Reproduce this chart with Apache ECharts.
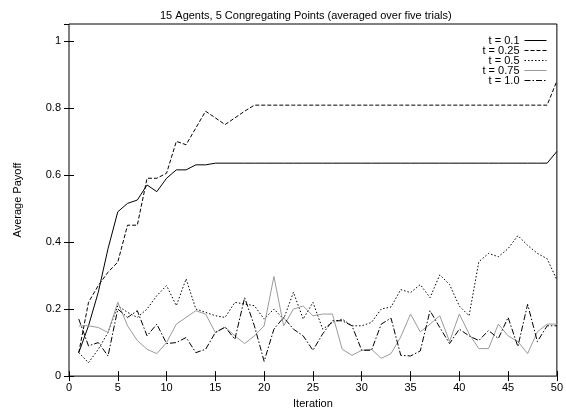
<!DOCTYPE html>
<html>
<head>
<meta charset="utf-8">
<script src="https://cdn.jsdelivr.net/npm/echarts@6/dist/echarts.min.js"></script>
<style>
  html, body { margin: 0; padding: 0; background: #fff; }
  .chart { width: 566px; height: 414px; }
</style>
</head>
<body>
<div class="chart"></div>
<script>
/* 数据 */
var iterations = [1, 2, 3, 4, 5, 6, 7, 8, 9, 10, 11, 12, 13, 14, 15, 16, 17, 18, 19, 20,
  21, 22, 23, 24, 25, 26, 27, 28, 29, 30, 31, 32, 33, 34, 35, 36, 37, 38, 39, 40,
  41, 42, 43, 44, 45, 46, 47, 48, 49, 50];
var t01 = [0.07, 0.15, 0.25, 0.38, 0.49, 0.515, 0.525, 0.57, 0.55, 0.59, 0.615, 0.615, 0.63, 0.63, 0.635,
  0.635, 0.635, 0.635, 0.635, 0.635, 0.635, 0.635, 0.635, 0.635, 0.635, 0.635, 0.635, 0.635, 0.635, 0.635,
  0.635, 0.635, 0.635, 0.635, 0.635, 0.635, 0.635, 0.635, 0.635, 0.635, 0.635, 0.635, 0.635, 0.635, 0.635,
  0.635, 0.635, 0.635, 0.635, 0.67];
var t025 = [0.07, 0.22, 0.27, 0.31, 0.34, 0.45, 0.45, 0.59, 0.59, 0.605, 0.70, 0.69, 0.74, 0.79, 0.77,
  0.75, 0.77, 0.79, 0.808, 0.808, 0.808, 0.808, 0.808, 0.808, 0.808, 0.808, 0.808, 0.808, 0.808, 0.808,
  0.808, 0.808, 0.808, 0.808, 0.808, 0.808, 0.808, 0.808, 0.808, 0.808, 0.808, 0.808, 0.808, 0.808, 0.808,
  0.808, 0.808, 0.808, 0.808, 0.88];
var t05 = [0.07, 0.04, 0.08, 0.13, 0.21, 0.19, 0.175, 0.2, 0.24, 0.27, 0.21, 0.29, 0.2, 0.19, 0.18,
  0.175, 0.22, 0.215, 0.21, 0.17, 0.2, 0.17, 0.25, 0.17, 0.22, 0.14, 0.16, 0.17, 0.15, 0.15,
  0.16, 0.2, 0.206, 0.258, 0.249, 0.273, 0.234, 0.302, 0.273, 0.209, 0.18, 0.341, 0.366, 0.356, 0.38,
  0.419, 0.39, 0.366, 0.35, 0.287];
var t075 = [0.15, 0.15, 0.145, 0.13, 0.22, 0.15, 0.106, 0.08, 0.067, 0.1, 0.155, 0.175, 0.195, 0.185, 0.13,
  0.146, 0.12, 0.097, 0.12, 0.15, 0.297, 0.15, 0.2, 0.209, 0.18, 0.185, 0.185, 0.08, 0.062, 0.077,
  0.08, 0.053, 0.067, 0.117, 0.185, 0.132, 0.155, 0.18, 0.103, 0.185, 0.126, 0.082, 0.082, 0.155, 0.12,
  0.103, 0.067, 0.132, 0.155, 0.155];
var t10 = [0.17, 0.09, 0.1, 0.06, 0.2, 0.175, 0.195, 0.12, 0.155, 0.097, 0.1, 0.115, 0.07, 0.08, 0.13,
  0.146, 0.11, 0.234, 0.15, 0.044, 0.14, 0.175, 0.14, 0.12, 0.077, 0.126, 0.165, 0.165, 0.15, 0.077,
  0.077, 0.155, 0.173, 0.062, 0.06, 0.075, 0.195, 0.145, 0.097, 0.14, 0.12, 0.106, 0.136, 0.112, 0.175,
  0.088, 0.214, 0.103, 0.15, 0.15];
var seriesNames = ['t = 0.1', 't = 0.25', 't = 0.5', 't = 0.75', 't = 1.0'];

function pairs(values) {
  return iterations.map(function (x, i) { return [x, values[i]]; });
}

var myChart = echarts.init(document.querySelector('.chart'));
var font = 'Liberation Sans, Arial, sans-serif';

// 坐标轴（上、右两侧镜像刻度）
var xBase = {
  type: 'value', min: 0, max: 50, interval: 5,
  axisLine: { show: false },
  axisTick: { inside: true, length: 5, lineStyle: { color: '#000' } },
  splitLine: { show: false }
};
var yBase = {
  type: 'value', min: 0, max: 1.05, interval: 0.2,
  axisLine: { show: false },
  axisTick: { inside: true, length: 5, lineStyle: { color: '#000' } },
  splitLine: { show: false }
};

function lineSeries(name, values, color, type) {
  return {
    name: name, type: 'line', data: pairs(values), symbol: 'none',
    color: color,
    itemStyle: { color: color },
    lineStyle: { color: color, width: 1, type: type }
  };
}

var option = {
  animation: false,
  textStyle: { fontFamily: font },
  title: {
    text: '15 Agents, 5 Congregating Points (averaged over five trials)',
    left: 155,
    top: 5,
    textStyle: { fontSize: 11, fontWeight: 'normal', color: '#000', fontFamily: font }
  },
  grid: {
    left: 69, right: 6, top: 24, bottom: 31,
    show: true, borderColor: '#000', borderWidth: 1, backgroundColor: 'transparent'
  },
  legend: {
    data: seriesNames,
    orient: 'vertical',
    align: 'right',
    right: 14,
    top: 30,
    itemGap: -1,
    itemWidth: 22,
    itemHeight: 8,
    itemStyle: { opacity: 0 },
    lineStyle: { width: 1 },
    textStyle: { fontSize: 11, color: '#000', fontFamily: font }
  },
  xAxis: [
    Object.assign({}, xBase, {
      position: 'bottom',
      name: 'Iteration',
      nameLocation: 'middle',
      nameGap: 21,
      nameTextStyle: { fontSize: 11, color: '#000' },
      axisLabel: { fontSize: 11, color: '#000', margin: 6 }
    }),
    Object.assign({}, xBase, { position: 'top', axisLabel: { show: false } })
  ],
  yAxis: [
    Object.assign({}, yBase, {
      position: 'left',
      name: 'Average Payoff',
      nameLocation: 'middle',
      nameGap: 46,
      nameTextStyle: { fontSize: 11, color: '#000' },
      axisLabel: { fontSize: 11, color: '#000', margin: 8, showMaxLabel: false }
    }),
    Object.assign({}, yBase, { position: 'right', axisLabel: { show: false } })
  ],
  series: [
    lineSeries(seriesNames[0], t01, '#000', 'solid'),
    lineSeries(seriesNames[1], t025, '#000', [4, 2]),
    lineSeries(seriesNames[2], t05, '#000', [1.5, 2]),
    lineSeries(seriesNames[3], t075, '#9a9a9a', 'solid'),
    lineSeries(seriesNames[4], t10, '#000', [6, 2, 1.5, 2])
  ]
};

myChart.setOption(option);
</script>
</body>
</html>
